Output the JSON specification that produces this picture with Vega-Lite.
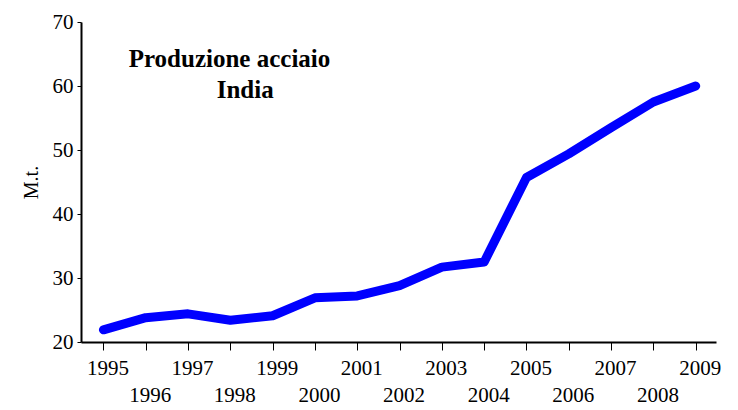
{
  "$schema": "https://vega.github.io/schema/vega-lite/v6.json",
  "width": 635,
  "height": 320,
  "autosize": {"type": "none"},
  "padding": {"left": 81, "top": 22, "right": 22, "bottom": 68},
  "background": "white",
  "config": {"view": {"stroke": null}, "font": "Liberation Serif"},
  "layer": [
    {
      "data": {
        "values": [
          {"year": 1995, "value": 21.9},
          {"year": 1996, "value": 23.8},
          {"year": 1997, "value": 24.4},
          {"year": 1998, "value": 23.4},
          {"year": 1999, "value": 24.1},
          {"year": 2000, "value": 26.9},
          {"year": 2001, "value": 27.2},
          {"year": 2002, "value": 28.8},
          {"year": 2003, "value": 31.7},
          {"year": 2004, "value": 32.5},
          {"year": 2005, "value": 45.7},
          {"year": 2006, "value": 49.4},
          {"year": 2007, "value": 53.5},
          {"year": 2008, "value": 57.5},
          {"year": 2009, "value": 60.0}
        ]
      },
      "mark": {"type": "line", "color": "#0000ff", "strokeWidth": 9, "strokeCap": "round", "strokeJoin": "round"},
      "encoding": {
        "x": {
          "field": "year",
          "type": "quantitative",
          "scale": {"domain": [1994.47, 2009.48], "nice": false, "zero": false},
          "axis": {
            "title": null,
            "grid": false,
            "values": [1995, 1996, 1997, 1998, 1999, 2000, 2001, 2002, 2003, 2004, 2005, 2006, 2007, 2008, 2009],
            "format": "d",
            "labelExpr": "datum.value % 2 == 0 ? ['', datum.label] : datum.label",
            "labelFont": "Liberation Serif",
            "labelFontSize": 21,
            "labelColor": "black",
            "labelBaseline": "top",
            "labelPadding": 7,
            "labelLineHeight": 27,
            "labelOffset": 4,
            "labelOverlap": false,
            "labelFlush": false,
            "tickSize": 8,
            "tickColor": "black",
            "tickWidth": 1,
            "domainColor": "black",
            "domainWidth": 2
          }
        },
        "y": {
          "field": "value",
          "type": "quantitative",
          "scale": {"domain": [20, 70], "nice": false, "zero": false},
          "axis": {
            "title": "M.t.",
            "titleFont": "Liberation Serif",
            "titleFontSize": 20,
            "titleFontWeight": "normal",
            "titleColor": "black",
            "titlePadding": 11,
            "grid": false,
            "values": [20, 25, 30, 35, 40, 45, 50, 55, 60, 65, 70],
            "labelExpr": "datum.value % 10 == 0 ? datum.label : ''",
            "labelFont": "Liberation Serif",
            "labelFontSize": 21,
            "labelColor": "black",
            "labelPadding": 4,
            "labelOverlap": false,
            "labelFlush": false,
            "tickSize": 4,
            "tickColor": "black",
            "tickWidth": 1,
            "domainColor": "black",
            "domainWidth": 2
          }
        }
      }
    },
    {
      "data": {
        "values": [
          {"text": "Produzione acciaio", "year": 1997.98, "value": 62.92},
          {"text": "India", "year": 1998.35, "value": 58.17}
        ]
      },
      "mark": {"type": "text", "font": "Liberation Serif", "fontSize": 25, "fontWeight": "bold", "align": "center", "baseline": "alphabetic", "color": "black"},
      "encoding": {
        "x": {"field": "year", "type": "quantitative"},
        "y": {"field": "value", "type": "quantitative"},
        "text": {"field": "text"}
      }
    }
  ]
}
